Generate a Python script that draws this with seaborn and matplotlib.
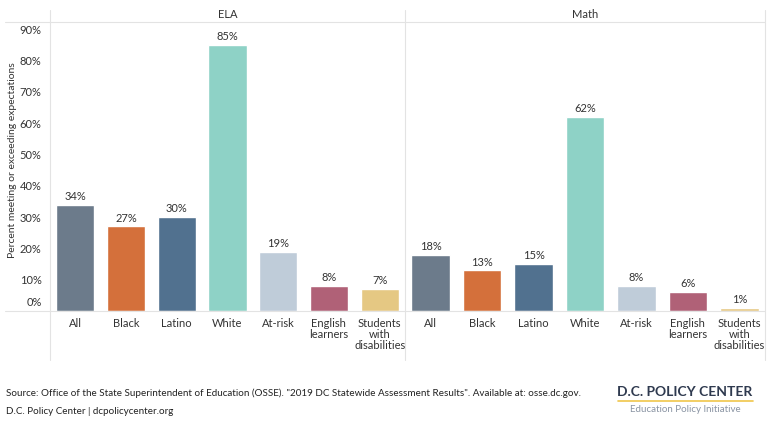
import matplotlib
matplotlib.use('Agg')
import matplotlib.pyplot as plt
import pandas as pd
import seaborn as sns

# data
groups = ['All', 'Black', 'Latino', 'White', 'At-risk', 'English\nlearners', 'Students\nwith\ndisabilities']
ela_values = [34, 27, 30, 85, 19, 8, 7]
math_values = [18, 13, 15, 62, 8, 6, 1]
subjects = ['ELA', 'Math']
y_ticks = [0, 10, 20, 30, 40, 50, 60, 70, 80, 90]
bar_colors = ['#6c7b8b', '#d4703b', '#51718f', '#8ed2c6', '#bfccd9', '#b06177', '#e5c883']

sns.set_theme(style='white')
plt.rcParams['font.family'] = ['Lato', 'DejaVu Sans']
text_col = '#333333'
line_col = '#e3e3e3'

fig = plt.figure(figsize=(7.68, 4.45), dpi=100)
W, H = 768, 445

def fx(px):
    return px / W

def fy(py):
    return 1 - py / H

panels = [(50, 405), (405, 765)]
palette = dict(zip(groups, bar_colors))
ymax = 92.3

for subj, vals, (x0, x1) in zip(subjects, [ela_values, math_values], panels):
    ax = fig.add_axes([fx(x0), fy(311), fx(x1 - x0), fy(22) - fy(311)])
    df = pd.DataFrame({'group': groups, 'value': vals})
    sns.barplot(data=df, x='group', y='value', hue='group', palette=palette,
                order=groups, hue_order=groups, legend=False, width=0.75,
                saturation=1, ax=ax)
    for c in ax.containers:
        ax.bar_label(c, fmt='%d%%', padding=2, fontsize=8, color=text_col)
    ax.set_ylim(0, ymax)
    ax.set_xlim(-0.5, len(groups) - 0.5)
    ax.set_xlabel('')
    ax.set_ylabel('')
    ax.set_yticks(y_ticks)
    if x0 == 50:
        # the 0% label sits a bit above the baseline in the original
        labels = [''] + [f'{t}%' for t in y_ticks[1:]]
        ax.set_yticklabels(labels, fontsize=8, color=text_col)
        ax.annotate(f'{y_ticks[0]}%', xy=(0, y_ticks[0]),
                    xycoords=('axes fraction', 'data'), xytext=(-6, 6),
                    textcoords='offset points', ha='right', va='center',
                    fontsize=8, color=text_col)
    else:
        ax.set_yticklabels([])
    ax.tick_params(axis='y', length=0, pad=6)
    ax.tick_params(axis='x', length=0, pad=5, labelsize=8, labelcolor=text_col)
    for lab in ax.get_xticklabels():
        lab.set_linespacing(1.0)
        lab.set_verticalalignment('top')
    for s in ax.spines.values():
        s.set_visible(False)
    ax.patch.set_alpha(0)
    fig.text(fx((x0 + x1) / 2), fy(15), subj, ha='center', va='center',
             fontsize=8, color=text_col)

# frame lines
fig.add_artist(plt.Line2D([fx(5), fx(765)], [fy(22), fy(22)], color=line_col, lw=0.8))
fig.add_artist(plt.Line2D([fx(5), fx(765)], [fy(311), fy(311)], color=line_col, lw=0.8))
for xv in [50, 405, 765]:
    fig.add_artist(plt.Line2D([fx(xv), fx(xv)], [fy(10), fy(360)], color=line_col, lw=0.8))

fig.text(fx(13), fy(160), 'Percent meeting or exceeding expectations', rotation=90,
         ha='center', va='center', fontsize=7.5, color=text_col)

# footer
fig.text(fx(6), fy(393), 'Source: Office of the State Superintendent of Education (OSSE). '
         '"2019 DC Statewide Assessment Results". Available at: osse.dc.gov.',
         ha='left', va='center', fontsize=7.1, color='#222222')
fig.text(fx(6), fy(411), 'D.C. Policy Center | dcpolicycenter.org',
         ha='left', va='center', fontsize=7.1, color='#222222')

fig.text(fx(685), fy(392), 'D.C. POLICY CENTER', ha='center', va='center',
         fontsize=10, fontweight='bold', color='#2f3a4f')
fig.add_artist(plt.Line2D([fx(618), fx(753)], [fy(401), fy(401)], color='#f0c64a', lw=1.2))
fig.text(fx(685), fy(410), 'Education Policy Initiative', ha='center', va='center',
         fontsize=7, color='#8a94a3')

fig.savefig('out.png', dpi=100)
